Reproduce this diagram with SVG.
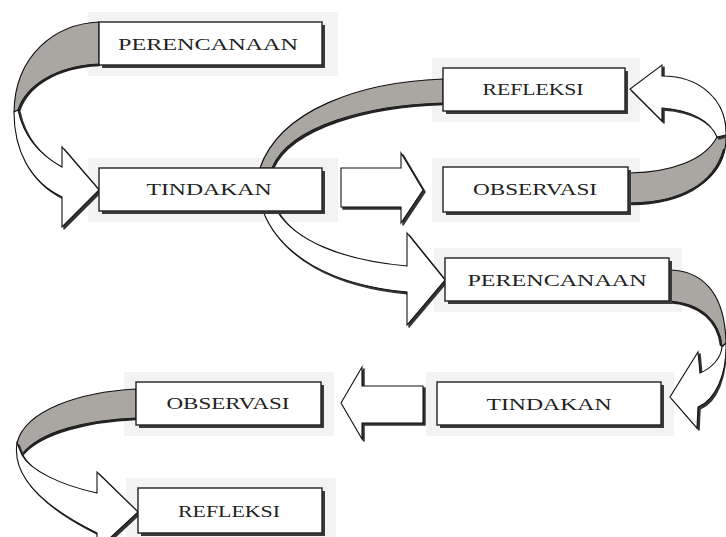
<svg xmlns="http://www.w3.org/2000/svg" width="726" height="537" viewBox="0 0 726 537">
  <style>
    .halo { fill: #f3f3f3; }
    .shadow { fill: #3a3a3a; }
    .box { fill: #ffffff; stroke: #222; stroke-width: 1.4; }
    .lbl { font-family: "Liberation Serif", "DejaVu Serif", serif; font-size: 16px; fill: #222; text-anchor: middle; }
    .band { fill: #aaa6a2; stroke: #111; stroke-width: 1.1; stroke-linejoin: round; }
    .white { fill: #ffffff; stroke: #111; stroke-width: 1.1; stroke-linejoin: miter; }
    .sh { fill: #333; stroke: #333; stroke-width: 1.5; stroke-linejoin: round; }
    .edge { fill: none; stroke: #222; stroke-width: 2.6; stroke-linecap: round; }
  </style>
  <rect width="726" height="537" fill="#ffffff"/>
  <g id="halos">
    <rect class="halo" x="88" y="12" width="250" height="64"/>
    <rect class="halo" x="88" y="158" width="250" height="64"/>
    <rect class="halo" x="432" y="58" width="208" height="64"/>
    <rect class="halo" x="432" y="158" width="208" height="64"/>
    <rect class="halo" x="434" y="248" width="248" height="64"/>
    <rect class="halo" x="426" y="372" width="248" height="64"/>
    <rect class="halo" x="124" y="372" width="210" height="64"/>
    <rect class="halo" x="126" y="478" width="210" height="59"/>
  </g>

  <g id="connectors">
    <!-- PERENCANAAN (top) -> TINDAKAN (top) -->
    <g id="c1">
      <path class="band" d="M99,22 C55,24 15,55 14,112 L18,110 C26,86 55,66 99,64 Z"/>
      <path class="edge" d="M99,65 C56,67 27,86 19,111"/>
      <path class="sh" d="M16,114 C16,152 32,184 64,199 L64,229 L101,192 L64,149 L64,169 C42,157 26,140 20,112 Z"/>
      <path class="white" d="M14,112 C14,150 30,182 62,197 L62,227 L99,190 L62,147 L62,167 C40,155 24,138 18,110 Z"/>
    </g>
    <!-- TINDAKAN (top) -> REFLEKSI (top) -->
    <g id="c2">
      <path class="band" d="M260,168 C280,110 360,82 443,79 L443,103 C370,105 290,125 272,168 Z"/>
      <path class="edge" d="M273,168 C292,127 370,106 443,104"/>
    </g>
    <!-- TINDAKAN (top) -> PERENCANAAN (middle) -->
    <g id="c3">
      <path class="sh" d="M265,213 C282,257 332,287 409,294 L409,327 L447,282 L409,235 L409,268 C342,262 297,242 279,213 Z"/>
      <path class="white" d="M263,211 C280,255 330,285 407,292 L407,325 L445,280 L407,233 L407,266 C340,260 295,240 277,211 Z"/>
    </g>
    <!-- TINDAKAN (top) -> OBSERVASI (top) -->
    <g id="c4">
      <path class="sh" d="M343,170 L403,170 L403,155 L425,192 L403,225 L403,209 L343,209 Z"/>
      <path class="white" d="M341,168 L401,168 L401,153 L423,190 L401,223 L401,207 L341,207 Z"/>
    </g>
    <!-- OBSERVASI (top) -> REFLEKSI (top) -->
    <g id="c5">
      <path class="band" d="M630,173 C672,172 705,160 717,137 L726,134 C728,176 690,203 630,203 Z"/>
      <path class="edge" d="M724,150 C714,185 680,203 632,204"/>
      <path class="sh" d="M726,137 C727,102 702,78 664,78 L664,67 L632,91 L664,123 L664,110 C692,112 712,122 719,139 Z"/>
      <path class="white" d="M726,135 C727,100 700,76 662,76 L662,65 L630,89 L662,121 L662,108 C690,110 710,120 717,137 Z"/>
    </g>
    <!-- PERENCANAAN (middle) -> TINDAKAN (middle) -->
    <g id="c6">
      <path class="band" d="M668,270 C700,270 725,290 726,343 L722,347 C720,322 702,303 668,301 Z"/>
      <path class="edge" d="M668,302 C702,304 718,322 721,345"/>
      <path class="sh" d="M726,345 C727,377 717,402 700,409 L699,430 L672,399 L700,354 L702,375 C714,370 723,360 724,349 Z"/>
      <path class="white" d="M726,343 C727,375 715,400 698,407 L697,428 L670,397 L698,352 L700,373 C712,368 721,358 722,347 Z"/>
    </g>
    <!-- TINDAKAN (middle) -> OBSERVASI (bottom) -->
    <g id="c7">
      <path class="sh" d="M425,388 L364,388 L364,369 L343,405 L364,441 L364,425 L425,425 Z"/>
      <path class="white" d="M423,386 L362,386 L362,367 L341,403 L362,439 L362,423 L423,423 Z"/>
    </g>
    <!-- OBSERVASI (bottom) -> REFLEKSI (bottom) -->
    <g id="c8">
      <path class="band" d="M136,389 C80,392 25,410 17,443 L22,455 C40,430 90,420 136,418 Z"/>
      <path class="edge" d="M136,419 C90,421 42,432 23,454"/>
      <path class="sh" d="M19,445 C14,477 42,507 99,535 L99,552 L140,514 L99,474 L99,495 C62,487 32,472 24,457 Z"/>
      <path class="white" d="M17,443 C12,475 40,505 97,533 L97,550 L138,512 L97,472 L97,493 C60,485 30,470 22,455 Z"/>
    </g>
  </g>

  <g id="perencanaan1">
    <rect class="shadow" x="102" y="25" width="223" height="43"/>
    <rect class="box" x="99" y="22" width="223" height="43"/>
    <text class="lbl" x="208" y="50" textLength="180" lengthAdjust="spacingAndGlyphs">PERENCANAAN</text>
  </g>
  <g id="tindakan1">
    <rect class="shadow" x="102" y="171" width="223" height="43"/>
    <rect class="box" x="99" y="168" width="223" height="43"/>
    <text class="lbl" x="209" y="195" textLength="125" lengthAdjust="spacingAndGlyphs">TINDAKAN</text>
  </g>
  <g id="refleksi1">
    <rect class="shadow" x="446" y="71" width="182" height="43"/>
    <rect class="box" x="443" y="68" width="182" height="43"/>
    <text class="lbl" x="533" y="95" textLength="101" lengthAdjust="spacingAndGlyphs">REFLEKSI</text>
  </g>
  <g id="observasi1">
    <rect class="shadow" x="446" y="170" width="185" height="45"/>
    <rect class="box" x="443" y="167" width="185" height="45"/>
    <text class="lbl" x="535" y="195" textLength="124" lengthAdjust="spacingAndGlyphs">OBSERVASI</text>
  </g>
  <g id="perencanaan2">
    <rect class="shadow" x="448" y="261" width="224" height="43"/>
    <rect class="box" x="445" y="258" width="224" height="43"/>
    <text class="lbl" x="557" y="286" textLength="179" lengthAdjust="spacingAndGlyphs">PERENCANAAN</text>
  </g>
  <g id="tindakan2">
    <rect class="shadow" x="440" y="385" width="224" height="43"/>
    <rect class="box" x="437" y="382" width="224" height="43"/>
    <text class="lbl" x="549" y="410" textLength="125" lengthAdjust="spacingAndGlyphs">TINDAKAN</text>
  </g>
  <g id="observasi2">
    <rect class="shadow" x="139" y="385" width="185" height="43"/>
    <rect class="box" x="136" y="382" width="185" height="43"/>
    <text class="lbl" x="228" y="409" textLength="123" lengthAdjust="spacingAndGlyphs">OBSERVASI</text>
  </g>
  <g id="refleksi2">
    <rect class="shadow" x="141" y="491" width="184" height="45"/>
    <rect class="box" x="138" y="488" width="184" height="45"/>
    <text class="lbl" x="229" y="517" textLength="102" lengthAdjust="spacingAndGlyphs">REFLEKSI</text>
  </g>
</svg>
